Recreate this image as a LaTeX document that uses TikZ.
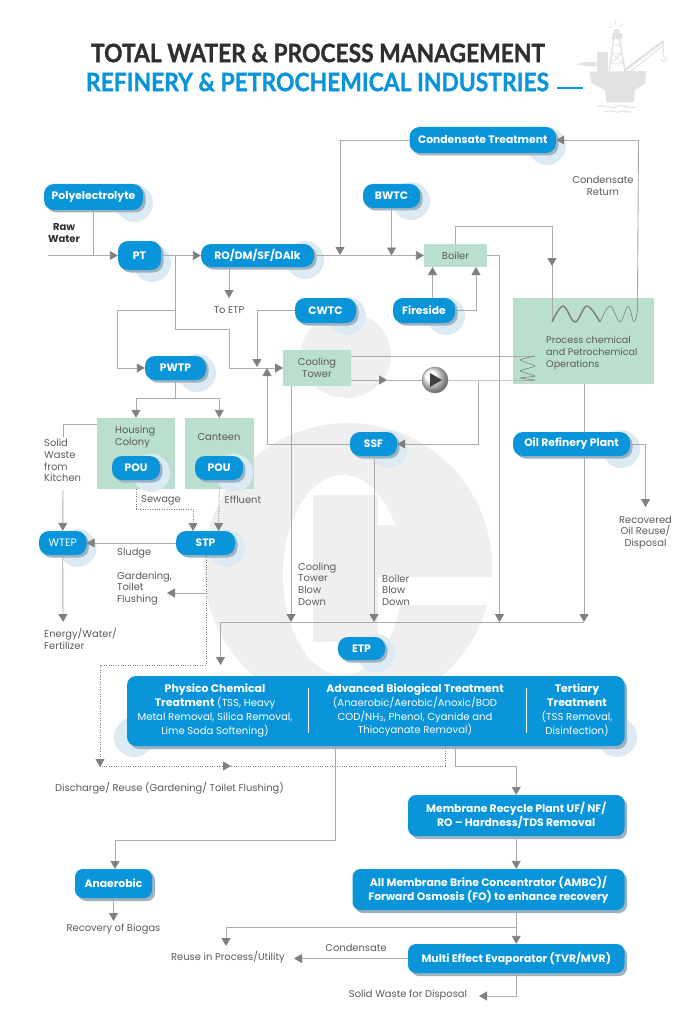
\documentclass[tikz,border=0pt]{standalone}
\usepackage{fontspec}
\usepackage{graphicx}
\usetikzlibrary{arrows.meta,calc}
\setmainfont{Poppins}
\newfontfamily\titlef{Lato}[BoldFeatures={FakeBold=1.2}]
\definecolor{pillblue}{HTML}{0A94D9}
\definecolor{glowblue}{HTML}{DCEBF3}
\definecolor{shadowc}{HTML}{9DB2C0}
\definecolor{greenbox}{HTML}{BADFCF}
\definecolor{linegray}{HTML}{ABABAB}
\definecolor{arrowgray}{HTML}{808080}
\definecolor{txtgray}{HTML}{5A5A5A}
\definecolor{wmgray}{HTML}{EFEFEF}
\definecolor{riggray}{HTML}{E2E2E2}
\definecolor{titledark}{HTML}{2F2F2F}
\pgfdeclarelayer{back}
\pgfdeclarelayer{wire}
\pgfsetlayers{back,wire,main}
\newcommand\bb[1]{{\fontsize{10.9}{13.9}\selectfont\bfseries #1}}
\tikzset{
  wireline/.style={draw=linegray,line width=.9pt},
  arr/.style={wireline,-{Triangle[length=8pt,width=9pt,color=arrowgray]}},
  dotline/.style={draw=arrowgray,line width=.8pt,dash pattern=on 1pt off 1.4pt},
  dotarr/.style={dotline,-{Triangle[length=8pt,width=9pt,color=arrowgray,sep=0pt]}},
  pillnode/.style={fill=pillblue,text=white,rounded corners=#1,inner sep=0pt,align=center,font=\fontsize{10.8}{13.8}\selectfont\bfseries},
  pillnode/.default=10pt,
  greennode/.style={fill=greenbox,text=txtgray,inner sep=0pt,align=center,font=\fontsize{9.9}{11.6}\selectfont},
  lbl/.style={text=txtgray,inner sep=0pt,font=\fontsize{9.9}{11.6}\selectfont,align=left},
  bigtxt/.style={text=white,inner sep=0pt,align=center,font=\fontsize{10.1}{13.9}\selectfont},
}
\newcommand\pill[7][10pt]{%
  \pgfmathsetmacro\cx{(#3+#5)/2}\pgfmathsetmacro\cy{(#4+#6)/2}%
  \pgfmathsetmacro\boxw{#5-#3}\pgfmathsetmacro\boxh{#6-#4}%
  \begin{pgfonlayer}{back}
    \fill[glowblue] (#5-9,#6-7) circle (19pt);
    \fill[shadowc,rounded corners=#1] (#3+2.5,#4+2.5) rectangle (#5+2.5,#6+2.5);
  \end{pgfonlayer}
  \node[pillnode=#1,minimum width=\boxw pt,minimum height=\boxh pt] (#2) at (\cx,\cy) {#7};}
\newcommand\gbox[6]{%
  \pgfmathsetmacro\cx{(#2+#4)/2}\pgfmathsetmacro\cy{(#3+#5)/2}%
  \pgfmathsetmacro\boxw{#4-#2}\pgfmathsetmacro\boxh{#5-#3}%
  \begin{pgfonlayer}{back}
  \node[greennode,minimum width=\boxw pt,minimum height=\boxh pt] (#1) at (\cx,\cy) {#6};
  \end{pgfonlayer}}
\begin{document}
\begin{tikzpicture}[x=1pt,y=-1pt]
\useasboundingbox (0,0) rectangle (691,1024);
\begin{pgfonlayer}{back}
  \fill[white] (0,0) rectangle (691,1024);
  % watermark
  \fill[wmgray] (346,355) ellipse [x radius=45pt,y radius=43pt];
  \begin{scope}
    \clip (348,567) circle (144pt);
    \fill[wmgray] (200,420) rectangle (500,715);
    \fill[white] (343,575) ellipse [x radius=60pt,y radius=100pt];
    \fill[wmgray] (313,495) rectangle (378,642);
    \fill[wmgray] (378,525) rectangle (500,577);
    \fill[white] (378,577) rectangle (500,605);
  \end{scope}
\end{pgfonlayer}

% rig icon
\begin{scope}[shift={(570,15)},x=.3333pt,y=-.3333pt]
  \fill[fill=riggray] (58,170) -- (228,168) -- (225,205) -- (195,225) -- (190,262) -- (110,262) -- (105,225) -- (65,205) -- cycle;
  \fill[fill=riggray] (80,112) rectangle (115,172);
  \fill[fill=riggray] (20,148) .. controls (40,140) and (60,140) .. (80,142) -- (80,154) .. controls (60,154) and (40,154) .. (20,148) -- cycle;
  \draw[draw=riggray,line width=1.4pt] (118,168) -- (131,70) -- (148,70) -- (165,168);
  \draw[draw=riggray,line width=.7pt] (125,115) -- (155,115) (121,145) -- (160,145) (121,145) -- (155,115) (125,115) -- (160,145) (128,90) -- (152,90);
  \fill[fill=riggray] (125,55) rectangle (155,72);
  \fill[fill=riggray] (133,42) rectangle (147,55);
  \draw[draw=riggray,line width=.8pt] (135,15) -- (138,28) (116,36) -- (128,38) (158,26) -- (150,36);
  \draw[draw=riggray,line width=2.4pt] (165,165) -- (281,78);
  \draw[draw=riggray,line width=1pt] (175,175) -- (281,90);
  \draw[draw=riggray,line width=.7pt] (281,78) -- (281,125);
  \draw[draw=riggray,line width=.9pt] (281,125) arc (90:-180:2.5pt);
  \draw[draw=riggray,line width=1pt] (80,275) .. controls (100,265) and (120,285) .. (140,275) .. controls (160,265) and (180,285) .. (200,275);
  \draw[draw=riggray,line width=1pt] (105,290) .. controls (120,282) and (135,296) .. (150,290) .. controls (162,284) and (175,296) .. (185,290);
\end{scope}

% title
\node[inner sep=0pt,text=titledark] (t1) at (318,53) {\resizebox{454pt}{18.5pt}{\titlef\bfseries\fontsize{25}{25}\selectfont TOTAL WATER \& PROCESS MANAGEMENT}};
\node[inner sep=0pt,text=pillblue] (t2) at (317.5,82) {\resizebox{463pt}{18.5pt}{\titlef\bfseries\fontsize{25}{25}\selectfont REFINERY \& PETROCHEMICAL INDUSTRIES}};
\draw[draw=pillblue,line width=1.2pt] (557,88) -- (583,88);

% pills
\pill{cond}{409.5}{127}{556}{153}{Condensate Treatment}
\pill{poly}{44}{184}{143}{210}{Polyelectrolyte}
\pill{bwtc}{363}{184}{420}{208}{BWTC}
\pill{pt}{118}{241}{161}{270}{PT}
\pill{ro}{201}{244}{314}{267}{RO/DM/SF/DAlk}
\pill{cwtc}{295}{298}{356}{323}{CWTC}
\pill{fire}{393}{298}{455}{323}{Fireside}
\pill{pwtp}{145}{356}{206}{380}{PWTP}
\pill{ssf}{350}{432}{397}{456}{SSF}
\pill{oil}{513}{432}{630}{456}{Oil Refinery Plant}
\pill{wtep}{39}{531}{86.5}{555}{\mdseries WTEP}
\pill{stp}{176}{531}{235}{555}{STP}
\pill{etp}{338}{637}{385}{660}{ETP}

% green boxes
\gbox{boiler}{424}{244}{487}{267}{Boiler}
\gbox{proc}{513}{298}{654}{384}{}
\gbox{tower}{283}{350}{351}{386}{Cooling\\Tower}
\gbox{house}{97}{418}{175}{489}{}
\gbox{cant}{184.5}{418}{254}{489}{}
\node[lbl,anchor=west,font=\fontsize{9.6}{11.7}\selectfont] (proctxt) at (546,353) {Process chemical\\and Petrochemical\\Operations};
\node[lbl,anchor=west] (housetxt) at (115,437) {Housing\\Colony};
\node[lbl] (canttxt) at (219,437) {Canteen};
\pill{pou1}{112}{456}{160}{480}{POU}
\pill{pou2}{195}{456}{243}{480}{POU}

% big pills
\begin{pgfonlayer}{back}
  \fill[glowblue] (134,737) circle (20pt);
  \fill[glowblue] (617,737) circle (20pt);
  \fill[shadowc,rounded corners=9pt] (130,679) rectangle (627,749);
  \fill[shadowc,rounded corners=8pt] (411,798) rectangle (627,839);
  \fill[shadowc,rounded corners=8pt] (355,872) rectangle (627,913);
  \fill[shadowc,rounded corners=8pt] (411,947) rectangle (627,976);
  \fill[shadowc,rounded corners=8pt] (78,872) rectangle (155,901);
\end{pgfonlayer}
\node[fill=pillblue,rounded corners=9pt,minimum width=497.5pt,minimum height=70pt,inner sep=0pt] (big) at (375.75,711) {};
\node[bigtxt] (col1) at (215,710.5) {\bb{Physico Chemical}\\\bb{Treatment} (TSS, Heavy\\Metal Removal, Silica Removal,\\Lime Soda Softening)};
\node[bigtxt] (col2) at (415,710) {\bb{Advanced Biological Treatment}\\(Anaerobic/Aerobic/Anoxic/BOD\\COD/NH\textsubscript{3}, Phenol, Cyanide and\\Thiocyanate Removal)};
\node[bigtxt] (col3) at (577,710) {\bb{Tertiary}\\\bb{Treatment}\\(TSS Removal,\\Disinfection)};
\draw[white,line width=.6pt] (308.5,688) -- (308.5,733) (526,688) -- (526,733);
\node[pillnode=8pt,minimum width=216.5pt,minimum height=41pt] (mem) at (516.25,815.5) {Membrane Recycle Plant UF/ NF/\\RO -- Hardness/TDS Removal};
\node[pillnode=8pt,minimum width=272pt,minimum height=41pt] (ambc) at (488.5,889.5) {All Membrane Brine Concentrator (AMBC)/\\Forward Osmosis (FO) to enhance recovery};
\node[pillnode=8pt,minimum width=216.5pt,minimum height=29pt] (mee) at (516.25,958.5) {Multi Effect Evaporator (TVR/MVR)};
\node[pillnode=8pt,minimum width=77pt,minimum height=29pt] (ana) at (113.5,883.5) {Anaerobic};

% pump
\shade[ball color=white,draw=arrowgray,line width=.5pt] (435,380) circle (13pt);
\node[circle,fill=none,inner sep=0pt,minimum size=26pt] (pump) at (435,380) {};
\fill[black!75] (430,373) -- (442,380) -- (430,387) -- cycle;

% labels
\node[lbl,font=\fontsize{10}{11.6}\selectfont\bfseries,text=titledark,align=center] (raw) at (64,233) {Raw\\Water};
\node[lbl,align=center] (toetp) at (229,310) {To ETP};
\node[lbl,align=center] (crt) at (603,186) {Condensate\\Return};
\node[lbl,anchor=west] (solid) at (44,460.5) {Solid\\Waste\\from\\Kitchen};
\node[lbl,anchor=west] (sew) at (141,500) {Sewage};
\node[lbl,anchor=west] (eff) at (224.5,500) {Effluent};
\node[lbl,anchor=west] (sludge) at (117,553) {Sludge};
\node[lbl,anchor=west] (gard) at (117,588.5) {Gardening,\\Toilet\\Flushing};
\node[lbl,anchor=west] (energy) at (44,639) {Energy/Water/\\Fertilizer};
\node[lbl,anchor=west] (ctbd) at (298,584) {Cooling\\Tower\\Blow\\Down};
\node[lbl,anchor=west] (bbd) at (382,590) {Boiler\\Blow\\Down};
\node[lbl,align=center] (roil) at (645.5,532.5) {Recovered\\Oil Reuse/\\Disposal};
\node[lbl,anchor=west] (disc) at (55,788) {Discharge/ Reuse (Gardening/ Toilet Flushing)};
\node[lbl,align=center] (biogas) at (113.5,929) {Recovery of Biogas};
\node[lbl,align=center] (reuse) at (228,957) {Reuse in Process/Utility};
\node[lbl,align=center] (cdl) at (356,948) {Condensate};
\node[lbl,align=center] (swd) at (408,995) {Solid Waste for Disposal};

% free coordinates
\coordinate (rawin) at (48,255.5);
\coordinate (ptx) at (175,255.5);
\coordinate (coilS) at (552,322);
\coordinate (coilE) at (637.5,300);
\coordinate (coilL1) at (535,356);
\coordinate (coilL2) at (535,380);
\coordinate (towerT) at (351,356);
\coordinate (towerB) at (351,380);
\coordinate (towerIn) at (283,368);
\coordinate (twin) at (267,368);
\coordinate (rightTop) at (638.5,140);
\coordinate (join) at (220.5,622);
\coordinate (joinE) at (584,622);
\coordinate (condIn) at (340,255);
\coordinate (boilTurn) at (552,226);
\coordinate (boilArr) at (552,266);
\coordinate (fireL) at (432.5,298);
\coordinate (fireLT) at (432.5,267);
\coordinate (fireRT) at (476,267);
\coordinate (ptTurn) at (175,329);
\coordinate (gateB) at (229,368);
\coordinate (gate) at (229,329);
\coordinate (pwBr) at (175,310);
\coordinate (pwIn) at (117,368);
\coordinate (cwIn) at (257,367);
\coordinate (roOut) at (229,267);
\coordinate (toEtp) at (229,298);
\coordinate (towArr) at (387,380);
\coordinate (procL) at (513,380);
\coordinate (ssfTap) at (478,380);
\coordinate (boilDn) at (499.5,622);
\coordinate (procB) at (584,384);
\coordinate (ctB) at (291,386);
\coordinate (ctE) at (291,622);
\coordinate (ssfB) at (374,456);
\coordinate (ssfE) at (374,622);
\coordinate (etpIn) at (220.5,665);
\coordinate (oilE) at (645.5,507);
\coordinate (pwJ) at (175.5,398);
\coordinate (hsW) at (97,424);
\coordinate (wsTop) at (63,437);
\coordinate (wsBot) at (63,490);
\coordinate (enerE) at (63,622);
\coordinate (sewTurn) at (193,509);
\coordinate (sewE) at (193,531);
\coordinate (effE) at (218.5,531);
\coordinate (stpB) at (206,555);
\coordinate (dot1) at (206,665);
\coordinate (dot2) at (100,665);
\coordinate (dot3) at (100,767);
\coordinate (gard1) at (206,593);
\coordinate (gard2) at (180,593);
\coordinate (gard3) at (167,593);
\coordinate (dis1) at (445,746);
\coordinate (dis2) at (445,766);
\coordinate (dis3) at (100,766);
\coordinate (dis4) at (200,766);
\coordinate (dis5) at (231,766);
\coordinate (an1) at (335,746);
\coordinate (an2) at (115,840);
\coordinate (an3) at (115,869);
\coordinate (bioE) at (113.5,921);
\coordinate (mb1) at (455,746);
\coordinate (mb2) at (516.25,766);
\coordinate (rs1) at (516.25,927);
\coordinate (rs2) at (226,946);
\coordinate (cdE) at (294,958.5);
\coordinate (swE) at (479,996);

\begin{pgfonlayer}{wire}
  \draw[arr] (rawin) -- (pt.west);
  \draw[wireline] (poly.south) -- (poly.south |- pt.west);
  \draw[arr] (pt.east) -- (ro.west);
  \draw[arr] (ro.east) -- (boiler.west);
  \draw[arr] (cond.west) -| (condIn);
  \draw[arr] (bwtc.south) -- (bwtc.south |- boiler.west);
  \draw[wireline] (boiler.north) |- (boilTurn) -- (coilS);
  \draw[arr] (boilTurn) -- (boilArr);
  \draw[wireline] (coilE) -- (rightTop);
  \draw[arr] (rightTop) -- (cond.east);
  \draw[arr] (fireL) -- (fireLT);
  \draw[arr] (fire.east) -| (fireRT);
  \draw[wireline] (ptx) -- (ptTurn) -- (gate) -- (gateB);
  \draw[arr] (gateB) -- (towerIn);
  \draw[wireline] (pwBr) -| (pwIn);
  \draw[arr] (pwIn) -- (pwtp.west);
  \draw[arr] (cwtc.west) -| (cwIn);
  \draw[arr] (roOut) -- (toEtp);
  \draw[wireline] (towerT) -- (coilL1);
  \draw[arr] (towerB) -- (towArr);
  \draw[wireline] (towArr) -- (pump.west);
  \draw[wireline] (pump.east) -- (procL) -- (coilL2);
  \draw[arr] (ssfTap) |- (ssf.east);
  \draw[arr] (ssf.west) -| (twin);
  \draw[arr] (boiler.east) -| (boilDn);
  \draw[arr] (procB) -- (joinE);
  \draw[arr] (ctB) -- (ctE);
  \draw[arr] (ssfB) -- (ssfE);
  \draw[wireline] (joinE) -- (join);
  \draw[arr] (join) -- (etpIn);
  \draw[arr] (oil.east) -| (oilE);
  \draw[wireline] (pwtp.south) -- (pwJ);
  \draw[arr] (pwJ) -| (house.north);
  \draw[arr] (pwJ) -| (cant.north);
  \draw[wireline] (hsW) -| (wsTop);
  \draw[arr] (wsBot) -- (wtep.north);
  \draw[arr] (wtep.south) -- (enerE);
  \draw[dotarr] (house.south) |- (sewTurn) -- (sewE);
  \draw[dotarr] (cant.south) -- (effE);
  \draw[arr] (stp.west) -- (wtep.east);
  \draw[dotline] (stpB) -- (dot1) -- (dot2);
  \draw[dotarr] (dot2) -- (dot3);
  \draw[wireline] (gard1) -- (gard2);
  \draw[arr] (gard2) -- (gard3);
  \draw[dotline] (dis1) -- (dis2) -- (dis3);
  \draw[dotarr] (dis4) -- (dis5);
  \draw[arr] (an1) |- (an2) -- (an3);
  \draw[arr] (ana.south) -- (bioE);
  \draw[arr] (mb1) |- (mb2) -- (mem.north);
  \draw[arr] (mem.south) -- (mem.south |- ambc.north);
  \draw[arr] (mem.south |- ambc.south) -- (mee.north);
  \draw[arr] (rs1) -| (rs2);
  \draw[arr] (mee.west) -- (cdE);
  \draw[arr] (mee.south) |- (swE);
  % coils
  \draw[draw=arrowgray,line width=1.5pt,line join=round] plot[smooth,tension=.6] coordinates {(552,322) (563,306) (575,322) (587,306) (600,322)};
  \draw[draw=arrowgray,line width=.6pt] plot[smooth,tension=.6] coordinates {(600,322) (610,306) (620,322) (628,306) (634,322) (637.5,310) (637.5,300)};
  \draw[draw=arrowgray,line width=.6pt,line join=round] plot[smooth,tension=.3] coordinates {(535,356) (520,360) (535,366) (520,371) (535,376) (520,378) (535,380)};
\end{pgfonlayer}
\end{tikzpicture}
\end{document}
